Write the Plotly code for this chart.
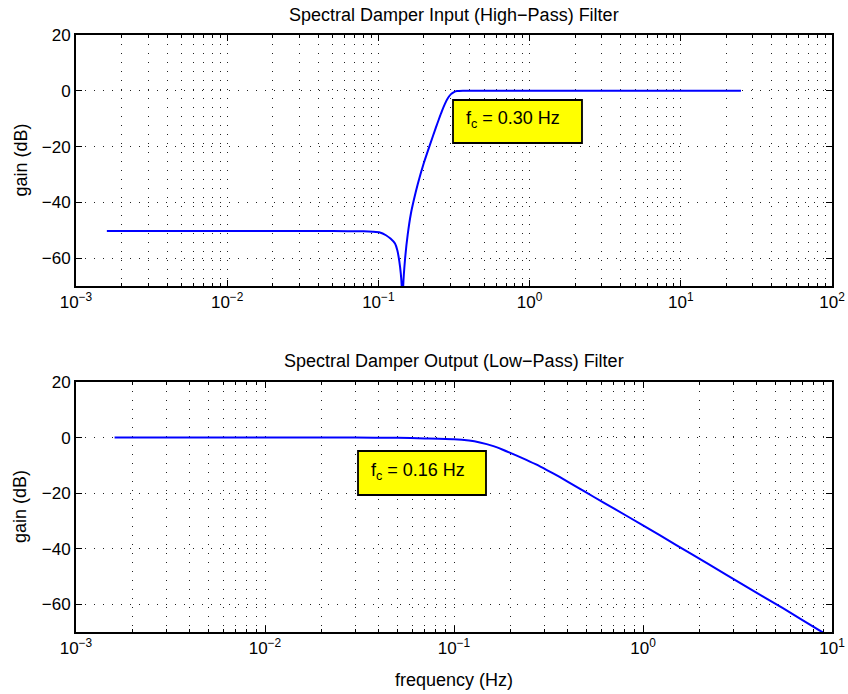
import plotly.graph_objects as go

# ---- data ----
hp_freq = [0.0016, 0.01, 0.05, 0.08, 0.092, 0.1023, 0.1122, 0.1202, 0.1288, 0.1334, 0.1374,
           0.1406, 0.1426, 0.1439, 0.1459, 0.1500, 0.1563, 0.1641, 0.1718, 0.1820, 0.1995,
           0.2188, 0.2399, 0.2512, 0.2630, 0.2754, 0.2884, 0.3020, 0.3162, 0.3311, 0.3631,
           0.42, 1.0, 25.0]
hp_gain = [-50.3, -50.3, -50.3, -50.4, -50.55, -50.8, -51.8, -53.0, -54.8, -57.2, -61.0,
           -65.5, -70.0, -90.0, -70.0, -60.5, -51.5, -44.0, -39.0, -33.5, -26.0,
           -19.5, -13.2, -10.2, -7.3, -4.7, -2.6, -1.2, -0.45, -0.1, 0.0,
           0.0, 0.0, 0.0]

lp_freq = [0.0016, 0.01, 0.03, 0.05, 0.07, 0.1, 0.12, 0.137, 0.16, 0.18, 0.2, 0.23, 0.27, 0.31,
           0.36, 0.45, 0.55, 0.7, 1.0, 1.5, 2.2, 3.5, 5.5, 8.8, 10.0]
lp_gain = [0.0, 0.0, -0.02, -0.1, -0.3, -0.6, -1.1, -1.8, -3.0, -4.3, -5.6, -7.4, -9.6, -11.7,
           -14.1, -17.9, -21.4, -25.5, -31.6, -38.7, -45.4, -53.6, -61.4, -69.9, -72.1]

top_title = "Spectral Damper Input (High\u2212Pass) Filter"
bottom_title = "Spectral Damper Output (Low\u2212Pass) Filter"
top_note = "f<sub>c</sub> = 0.30 Hz"
bottom_note = "f<sub>c</sub> = 0.16 Hz"

top_xticks = [1e-3, 1e-2, 1e-1, 1e0, 1e1, 1e2]
top_xlabels = ["10<sup>\u22123</sup>", "10<sup>\u22122</sup>", "10<sup>\u22121</sup>",
               "10<sup>0</sup>", "10<sup>1</sup>", "10<sup>2</sup>"]
bot_xticks = [1e-3, 1e-2, 1e-1, 1e0, 1e1]
bot_xlabels = top_xlabels[:5]
yticks = [-60, -40, -20, 0, 20]
ylabels = ["\u221260", "\u221240", "\u221220", "0", "20"]

FONT = "Liberation Sans, Arial, sans-serif"
FS_TICK = 17
FS = 18

def minor_vals(lo, hi):
    vals = []
    for e in range(lo, hi):
        for m in range(2, 10):
            vals.append(m * 10 ** e)
    return vals

grid = dict(showgrid=True, gridcolor="#222", gridwidth=1, griddash="1px,8px")

def xaxis(ticks, labels, rng, anchor, minv):
    return dict(type="log", range=rng, anchor=anchor, domain=[0, 1], automargin=False,
                tickmode="array", tickvals=ticks, ticktext=labels,
                ticks="inside", ticklen=6, tickcolor="black", tickwidth=1,
                showline=True, linecolor="black", linewidth=1.8, mirror="ticks",
                zeroline=False, tickfont=dict(family=FONT, size=FS_TICK, color="black"),
                minor=dict(tickmode="array", tickvals=minv, ticks="inside", ticklen=3,
                           tickcolor="black", showgrid=True, gridcolor="#222",
                           griddash="1px,8px", gridwidth=1),
                **grid)

def yaxis(dom, anchor):
    return dict(range=[-70, 20], domain=dom, anchor=anchor, automargin=False,
                tickmode="array", tickvals=yticks, ticktext=ylabels,
                ticks="inside", ticklen=6, tickcolor="black",
                showline=True, linecolor="black", linewidth=1.8, mirror="ticks",
                zeroline=False, tickfont=dict(family=FONT, size=FS_TICK, color="black"),
                **grid)

fig = go.Figure()
fig.add_trace(go.Scatter(x=hp_freq, y=hp_gain, mode="lines", xaxis="x", yaxis="y",
                         line=dict(color="#0000ff", width=2, shape="spline", smoothing=0.5),
                         showlegend=False, hoverinfo="skip"))
fig.add_trace(go.Scatter(x=lp_freq, y=lp_gain, mode="lines", xaxis="x2", yaxis="y2",
                         line=dict(color="#0000ff", width=2, shape="spline", smoothing=0.6),
                         showlegend=False, hoverinfo="skip"))

W, H = 848, 694
L, R, T, B = 76, 16, 35, 62
plot_h = H - T - B          # 597
plot_w = W - L - R          # 756
top_dom = [(632 - 286) / plot_h, 1.0]
bot_dom = [0.0, (632 - 382) / plot_h]

fig.update_layout(
    width=W, height=H, margin=dict(l=L, r=R, t=T, b=B, autoexpand=False),
    paper_bgcolor="white", plot_bgcolor="white",
    font=dict(family=FONT, size=FS, color="black"),
    xaxis=xaxis(top_xticks, top_xlabels, [-3, 2], "y", minor_vals(-3, 2)),
    yaxis=yaxis(top_dom, "x"),
    xaxis2=xaxis(bot_xticks, bot_xlabels, [-3, 1], "y2", minor_vals(-3, 1)),
    yaxis2=yaxis(bot_dom, "x2"),
)

def py(pix):   # pixel y -> paper y
    return (632 - pix) / plot_h

def px(pix):   # pixel x -> paper x
    return (pix - 76) / plot_w

def label(text, x, y, angle=0, size=FS):
    return dict(text=text, x=x, y=y, xref="paper", yref="paper", xanchor="center",
                yanchor="middle", textangle=angle, showarrow=False, font=dict(size=size))

ann = [
    label(top_title, 0.5, py(15)),
    label(bottom_title, 0.5, py(361)),
    label("frequency (Hz)", 0.5, py(680)),
    label("gain (dB)", px(20), py((286 + 35) / 2), -90),
    label("gain (dB)", px(20), py((632 + 382) / 2), -90),
]

# annotation boxes
shapes = [
    dict(type="rect", xref="x domain", yref="y domain",
         x0=(453 - 76) / 756, x1=(582 - 76) / 756, y0=(286 - 143) / 251, y1=(286 - 100) / 251,
         fillcolor="#ffff00", line=dict(color="black", width=1.8)),
    dict(type="rect", xref="x2 domain", yref="y2 domain",
         x0=(358 - 76) / 756, x1=(486 - 76) / 756, y0=(632 - 495) / 250, y1=(632 - 451) / 250,
         fillcolor="#ffff00", line=dict(color="black", width=1.8)),
]
ann.append(dict(text=top_note, xref="x domain", yref="y domain", x=(464 - 76) / 756,
                y=(286 - 119) / 251, xanchor="left", yanchor="middle", showarrow=False,
                font=dict(size=FS)))
ann.append(dict(text=bottom_note, xref="x2 domain", yref="y2 domain", x=(369 - 76) / 756,
                y=(632 - 471) / 250, xanchor="left", yanchor="middle", showarrow=False,
                font=dict(size=FS)))

fig.update_layout(annotations=ann, shapes=shapes)
fig.write_html("out.html", config={"displayModeBar": False},
               post_script="document.body.style.margin='0';"
                           "document.body.style.overflow='hidden';")
